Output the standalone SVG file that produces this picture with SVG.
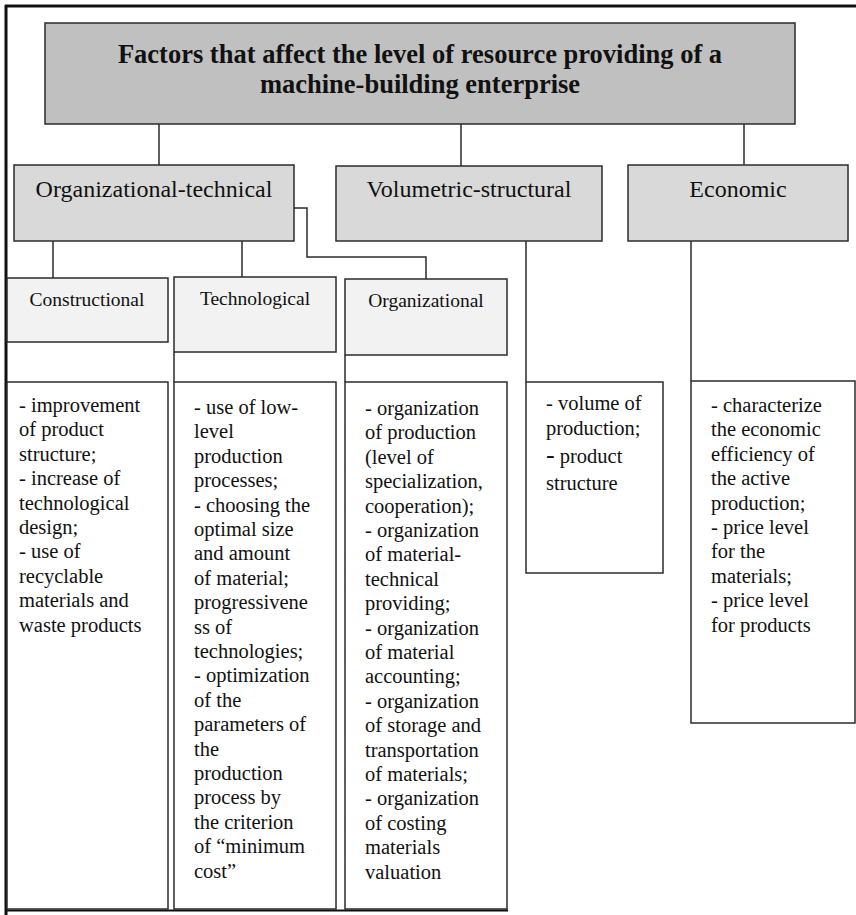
<svg xmlns="http://www.w3.org/2000/svg" width="856" height="915" viewBox="0 0 856 915">
  <style>
    .frame { stroke: #111; stroke-width: 3; fill: none; }
    .box { stroke: #2b2b2b; stroke-width: 1.5; }
    .title { fill: #c0c0c0; }
    .cat { fill: #d9d9d9; }
    .sub { fill: #f2f2f2; }
    .list { fill: #ffffff; }
    .link { stroke: #2b2b2b; stroke-width: 1.5; fill: none; }
    text { font-family: "Liberation Serif", "Times New Roman", serif; fill: #111; }
    .t-title { font-size: 26.5px; font-weight: bold; text-anchor: middle; }
    .t-cat { font-size: 24px; text-anchor: middle; }
    .t-sub { font-size: 19.5px; text-anchor: middle; }
    .t-list { font-size: 20.5px; }
  </style>

  <rect x="0" y="0" width="856" height="915" fill="#ffffff"/>

  <!-- outer frame -->
  <path class="frame" d="M5,6 H856 M6,5 V915"/>
  <path d="M5,910.5 H508" stroke="#111" stroke-width="2" fill="none"/>

  <!-- connectors -->
  <g id="connectors">
    <path class="link" d="M159,124 V165"/>
    <path class="link" d="M461,124 V166"/>
    <path class="link" d="M744,124 V165"/>
    <path class="link" d="M53,241 V278"/>
    <path class="link" d="M242,241 V277"/>
    <path class="link" d="M294,208 H307 V257 H426 V279"/>
    <path class="link" d="M526,241 V382"/>
    <path class="link" d="M691,241 V381"/>
    <path class="link" d="M174,352 V382"/>
    <path class="link" d="M345,355 V382"/>
  </g>

  <g id="root">
    <rect class="box title" x="45" y="23" width="750" height="101"/>
    <text class="t-title" x="420" y="63">Factors that affect the level of resource providing of a</text>
    <text class="t-title" x="420" y="93">machine-building enterprise</text>
  </g>

  <g id="org-technical">
    <rect class="box cat" x="14" y="165" width="280" height="76"/>
    <text class="t-cat" x="154" y="197">Organizational-technical</text>
  </g>

  <g id="volumetric-structural">
    <rect class="box cat" x="336" y="166" width="266" height="75"/>
    <text class="t-cat" x="469" y="197">Volumetric-structural</text>
  </g>

  <g id="economic">
    <rect class="box cat" x="628" y="165" width="220" height="76"/>
    <text class="t-cat" x="738" y="197">Economic</text>
  </g>

  <g id="constructional">
    <rect class="box sub" x="7" y="278" width="161" height="64"/>
    <text class="t-sub" x="87" y="306">Constructional</text>
  </g>

  <g id="technological">
    <rect class="box sub" x="174" y="277" width="162" height="75"/>
    <text class="t-sub" x="255" y="305">Technological</text>
  </g>

  <g id="organizational">
    <rect class="box sub" x="345" y="279" width="162" height="76"/>
    <text class="t-sub" x="426" y="307">Organizational</text>
  </g>

  <g id="constructional-list">
    <rect class="box list" x="7" y="382" width="161" height="527"/>
    <text class="t-list" x="19" y="412">
      <tspan x="19">- improvement</tspan>
      <tspan x="19" dy="24.4">of product</tspan>
      <tspan x="19" dy="24.4">structure;</tspan>
      <tspan x="19" dy="24.4">- increase of</tspan>
      <tspan x="19" dy="24.4">technological</tspan>
      <tspan x="19" dy="24.4">design;</tspan>
      <tspan x="19" dy="24.4">- use of</tspan>
      <tspan x="19" dy="24.4">recyclable</tspan>
      <tspan x="19" dy="24.4">materials and</tspan>
      <tspan x="19" dy="24.4">waste products</tspan>
    </text>
  </g>

  <g id="technological-list">
    <rect class="box list" x="174" y="382" width="162" height="527"/>
    <text class="t-list" x="194" y="414">
      <tspan x="194">- use of low-</tspan>
      <tspan x="194" dy="24.4">level</tspan>
      <tspan x="194" dy="24.4">production</tspan>
      <tspan x="194" dy="24.4">processes;</tspan>
      <tspan x="194" dy="24.4">- choosing the</tspan>
      <tspan x="194" dy="24.4">optimal size</tspan>
      <tspan x="194" dy="24.4">and amount</tspan>
      <tspan x="194" dy="24.4">of material;</tspan>
      <tspan x="194" dy="24.4">progressivene</tspan>
      <tspan x="194" dy="24.4">ss of</tspan>
      <tspan x="194" dy="24.4">technologies;</tspan>
      <tspan x="194" dy="24.4">- optimization</tspan>
      <tspan x="194" dy="24.4">of the</tspan>
      <tspan x="194" dy="24.4">parameters of</tspan>
      <tspan x="194" dy="24.4">the</tspan>
      <tspan x="194" dy="24.4">production</tspan>
      <tspan x="194" dy="24.4">process by</tspan>
      <tspan x="194" dy="24.4">the criterion</tspan>
      <tspan x="194" dy="24.4">of “minimum</tspan>
      <tspan x="194" dy="24.4">cost”</tspan>
    </text>
  </g>

  <g id="organizational-list">
    <rect class="box list" x="345" y="382" width="162" height="527"/>
    <text class="t-list" x="365" y="415">
      <tspan x="365">- organization</tspan>
      <tspan x="365" dy="24.4">of production</tspan>
      <tspan x="365" dy="24.4">(level of</tspan>
      <tspan x="365" dy="24.4">specialization,</tspan>
      <tspan x="365" dy="24.4">cooperation);</tspan>
      <tspan x="365" dy="24.4">- organization</tspan>
      <tspan x="365" dy="24.4">of material-</tspan>
      <tspan x="365" dy="24.4">technical</tspan>
      <tspan x="365" dy="24.4">providing;</tspan>
      <tspan x="365" dy="24.4">- organization</tspan>
      <tspan x="365" dy="24.4">of material</tspan>
      <tspan x="365" dy="24.4">accounting;</tspan>
      <tspan x="365" dy="24.4">- organization</tspan>
      <tspan x="365" dy="24.4">of storage and</tspan>
      <tspan x="365" dy="24.4">transportation</tspan>
      <tspan x="365" dy="24.4">of materials;</tspan>
      <tspan x="365" dy="24.4">- organization</tspan>
      <tspan x="365" dy="24.4">of costing</tspan>
      <tspan x="365" dy="24.4">materials</tspan>
      <tspan x="365" dy="24.4">valuation</tspan>
    </text>
  </g>

  <g id="volumetric-list">
    <rect class="box list" x="526" y="382" width="137" height="191"/>
    <text class="t-list" x="546" y="410">
      <tspan x="546">- volume of</tspan>
      <tspan x="546" dy="25">production;</tspan>
      <tspan x="546" dy="28"><tspan font-size="26">-</tspan> product</tspan>
      <tspan x="546" dy="27">structure</tspan>
    </text>
  </g>

  <g id="economic-list">
    <rect class="box list" x="691" y="381" width="164" height="342"/>
    <text class="t-list" x="711" y="412">
      <tspan x="711">-  characterize</tspan>
      <tspan x="711" dy="24.4">the economic</tspan>
      <tspan x="711" dy="24.4">efficiency of</tspan>
      <tspan x="711" dy="24.4">the active</tspan>
      <tspan x="711" dy="24.4">production;</tspan>
      <tspan x="711" dy="24.4">- price level</tspan>
      <tspan x="711" dy="24.4">for the</tspan>
      <tspan x="711" dy="24.4">materials;</tspan>
      <tspan x="711" dy="24.4">- price level</tspan>
      <tspan x="711" dy="24.4">for products</tspan>
    </text>
  </g>
</svg>
